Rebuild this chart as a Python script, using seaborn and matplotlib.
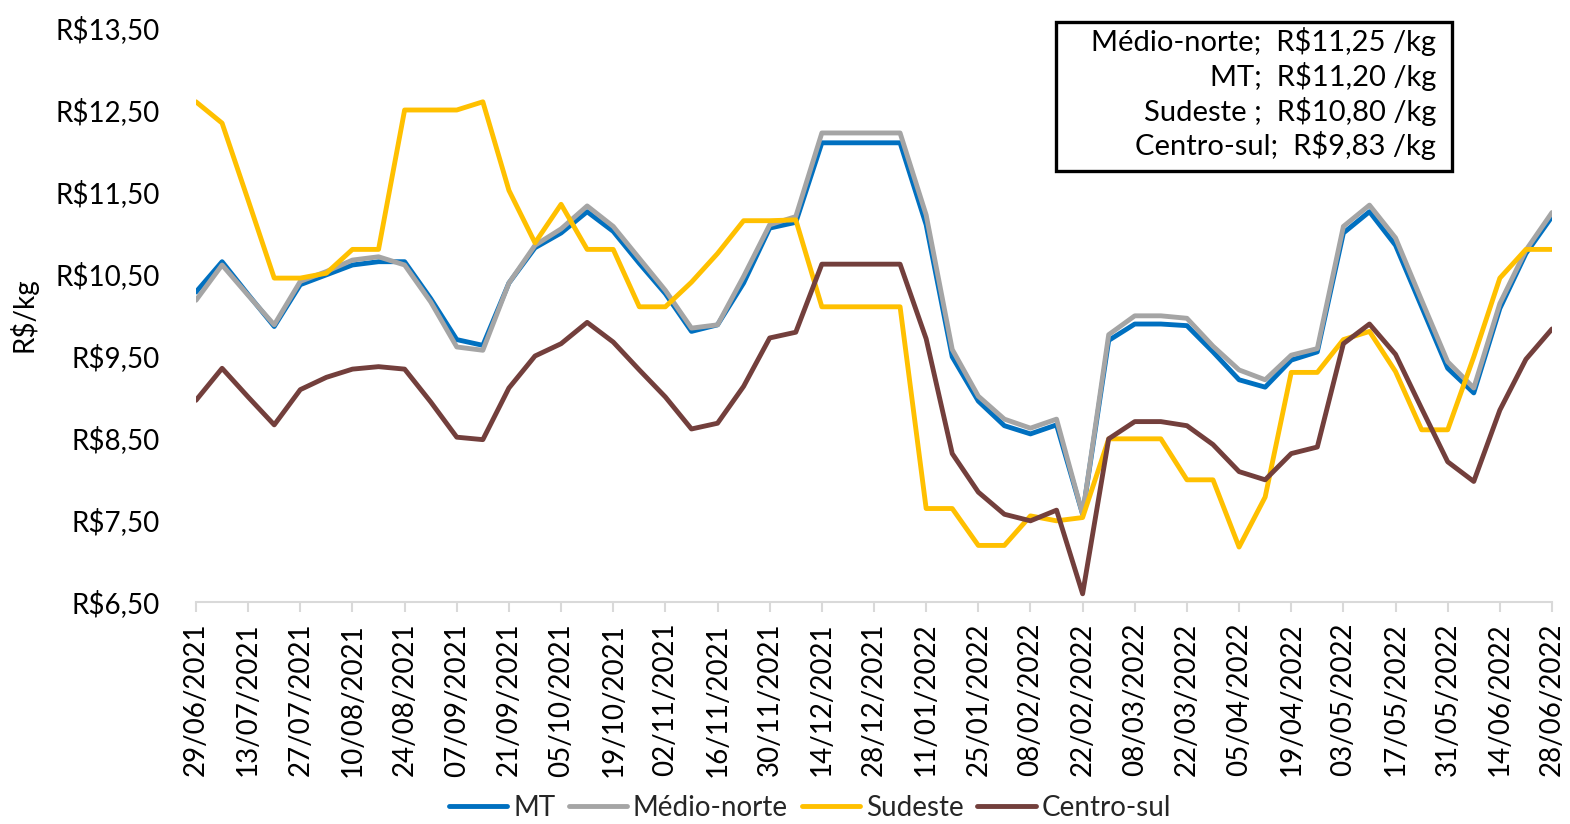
"""Preço semanal (R$/kg) por região: MT, Médio-norte, Sudeste e Centro-sul."""

import matplotlib
matplotlib.use("Agg")
import matplotlib.pyplot as plt
from matplotlib.lines import Line2D
from matplotlib.patches import Rectangle
import numpy as np
import pandas as pd
import seaborn as sns

# semanas de 29/06/2021 a 28/06/2022
datas = pd.date_range("2021-06-29", periods=53, freq="7D")

mt = [10.28, 10.65, 10.25, 9.86, 10.37, 10.49, 10.61, 10.65, 10.65, 10.20,
      9.70, 9.63, 10.39, 10.82, 11.00, 11.26, 11.02, 10.63, 10.26, 9.80,
      9.88, 10.39, 11.06, 11.13, 12.10, 12.10, 12.10, 12.10, 11.10, 9.49,
      8.95, 8.65, 8.55, 8.66, 7.57, 9.69, 9.89, 9.89, 9.87, 9.55,
      9.21, 9.12, 9.45, 9.55, 11.00, 11.26, 10.85, 10.10, 9.35, 9.05,
      10.08, 10.75, 11.20]
medio_norte = [10.18, 10.61, 10.24, 9.88, 10.41, 10.53, 10.67, 10.71, 10.61, 10.16,
               9.61, 9.57, 10.39, 10.85, 11.05, 11.33, 11.08, 10.69, 10.30, 9.84,
               9.88, 10.47, 11.10, 11.20, 12.22, 12.22, 12.22, 12.22, 11.22, 9.58,
               9.01, 8.73, 8.62, 8.73, 7.57, 9.76, 9.99, 9.99, 9.96, 9.62,
               9.33, 9.21, 9.51, 9.59, 11.08, 11.34, 10.94, 10.18, 9.43, 9.11,
               10.14, 10.79, 11.25]
sudeste = [12.60, 12.34, 11.40, 10.45, 10.45, 10.51, 10.80, 10.80, 12.50, 12.50,
           12.50, 12.60, 11.52, 10.88, 11.35, 10.80, 10.80, 10.10, 10.10, 10.40,
           10.75, 11.15, 11.15, 11.16, 10.10, 10.10, 10.10, 10.10, 7.64, 7.64,
           7.19, 7.19, 7.55, 7.49, 7.53, 8.49, 8.49, 8.49, 7.99, 7.99,
           7.17, 7.78, 9.30, 9.30, 9.70, 9.80, 9.31, 8.60, 8.60, 9.49,
           10.45, 10.80, 10.80]
centro_sul = [8.96, 9.35, 9.00, 8.66, 9.09, 9.24, 9.34, 9.37, 9.34, 8.94,
              8.51, 8.48, 9.11, 9.50, 9.65, 9.91, 9.67, 9.33, 9.00, 8.61,
              8.68, 9.13, 9.72, 9.79, 10.62, 10.62, 10.62, 10.62, 9.71, 8.31,
              7.84, 7.57, 7.49, 7.62, 6.60, 8.49, 8.70, 8.70, 8.65, 8.42,
              8.09, 7.99, 8.31, 8.39, 9.65, 9.89, 9.52, 8.86, 8.21, 7.97,
              8.84, 9.46, 9.83]

regioes = ["MT", "Médio-norte", "Sudeste", "Centro-sul"]
cores = {"MT": "#0070C0", "Médio-norte": "#A5A5A5",
         "Sudeste": "#FFC000", "Centro-sul": "#733F3C"}

y_ticks = [6.5, 7.5, 8.5, 9.5, 10.5, 11.5, 12.5, 13.5]
y_labels = ["R$6,50", "R$7,50", "R$8,50", "R$9,50",
            "R$10,50", "R$11,50", "R$12,50", "R$13,50"]

caixa_linhas = ["Médio-norte;  R$11,25 /kg",
                "MT;  R$11,20 /kg",
                "Sudeste ;  R$10,80 /kg",
                "Centro-sul;  R$9,83 /kg"]

# tabela longa para o seaborn
semana = np.arange(len(datas))
df = pd.concat([
    pd.DataFrame({"semana": semana, "preco": vals, "regiao": nome})
    for nome, vals in zip(regioes, [mt, medio_norte, sudeste, centro_sul])
], ignore_index=True)

sns.set_theme(style="white")
plt.rcParams["font.family"] = ["Lato", "DejaVu Sans"]

W, H = 1570, 824
fig = plt.figure(figsize=(W / 100, H / 100), dpi=100)
ax = fig.add_axes([196 / W, 1 - 602 / H, (1552 - 196) / W, (602 - 28) / H])

sns.lineplot(data=df, x="semana", y="preco", hue="regiao", hue_order=regioes,
             palette=cores, linewidth=3.5, sort=False, legend=False, ax=ax)

ax.set_xlim(0, len(datas) - 1)
ax.set_ylim(6.5, 13.5)
ax.set_yticks(y_ticks)
ax.set_yticklabels(y_labels, fontsize=20, color="black")
ax.set_xticks(semana[::2])
ax.set_xticklabels(datas.strftime("%d/%m/%Y")[::2], rotation=90,
                   fontsize=20, color="black")
ax.tick_params(axis="y", length=0, pad=26)
ax.tick_params(axis="x", length=7, width=1.5, color="#D9D9D9",
               direction="out", pad=8, bottom=True)
ax.set_xlabel("")
ax.set_ylabel("R$/kg", fontsize=20, color="black")
ax.yaxis.set_label_coords((38 - 196) / 1356, 0.5)
for lado in ["top", "right", "left"]:
    ax.spines[lado].set_visible(False)
ax.spines["bottom"].set_color("#D9D9D9")
ax.spines["bottom"].set_linewidth(1.5)

# caixa com os preços mais recentes
fig.patches.append(Rectangle((1056 / W, 1 - 171 / H), (1452 - 1056) / W,
                             (171 - 22) / H, transform=fig.transFigure,
                             fill=False, edgecolor="black", linewidth=2.4))
for k, linha in enumerate(caixa_linhas):
    fig.text(1436 / W, 1 - (42 + 34.6 * k) / H, linha, ha="right",
             va="center", fontsize=21, color="black")

handles = [Line2D([0], [0], color=cores[r], linewidth=3.5) for r in regioes]
fig.legend(handles, regioes, loc="center", bbox_to_anchor=(810 / W, 1 - 808 / H),
           ncol=4, frameon=False, fontsize=20, handlelength=2.1,
           handletextpad=0.2, columnspacing=0.5, borderpad=0)

fig.savefig("out.png", dpi=100)
